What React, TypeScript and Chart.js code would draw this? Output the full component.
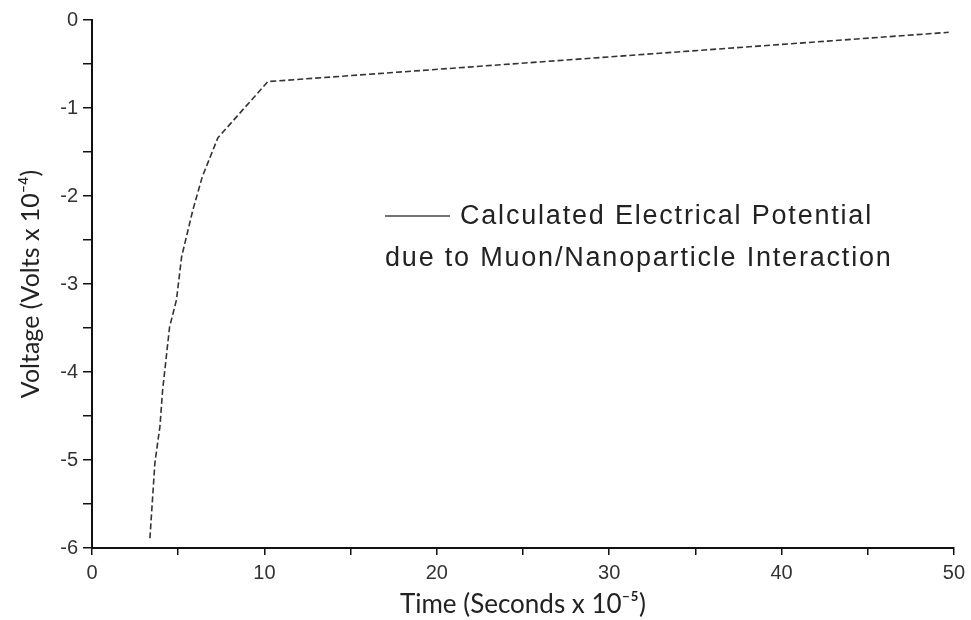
import React, { useEffect, useRef } from "react";
import { Chart, registerables } from "chart.js";

Chart.register(...registerables);

const timeValues = [3.36, 3.65, 3.94, 4.1, 4.5, 4.9, 5.2, 5.85, 6.4, 7.3, 10.2, 49.7];
const voltageValues = [-5.89, -5.03, -4.62, -4.2, -3.49, -3.18, -2.69, -2.16, -1.78, -1.34, -0.7, -0.14];
const legendLines = ["Calculated Electrical Potential", "due to Muon/Nanoparticle Interaction"];
const xTitle = "Time (Seconds x 10\u207B\u2075)";
const yTitle = "Voltage (Volts x 10\u207B\u2074)";

const legendPlugin = {
  id: "customLegend",
  afterDraw(chart: any) {
    const ctx = chart.ctx;
    ctx.save();
    ctx.strokeStyle = "#444";
    ctx.lineWidth = 1.5;
    ctx.beginPath();
    ctx.moveTo(385, 216);
    ctx.lineTo(450, 216);
    ctx.stroke();
    ctx.fillStyle = "#222";
    ctx.font = "27px 'Liberation Sans', Arial, sans-serif";
    (ctx as any).letterSpacing = "1.8px";
    ctx.textBaseline = "middle";
    ctx.textAlign = "left";
    ctx.fillText(legendLines[0], 460, 217);
    ctx.fillText(legendLines[1], 385, 259);
    ctx.restore();
  },
};

export default function App() {
  const ref = useRef<HTMLCanvasElement | null>(null);
  useEffect(() => {
    document.body.style.margin = "0";
    if (!ref.current) return;
    const chart = new Chart(ref.current, {
      type: "line",
      data: {
        datasets: [
          {
            label: "Calculated Electrical Potential",
            data: timeValues.map((t, i) => ({ x: t, y: voltageValues[i] })),
            borderColor: "#333",
            borderWidth: 1.6,
            borderDash: [6, 3],
            pointRadius: 0,
            fill: false,
            tension: 0,
          },
        ],
      },
      options: {
        animation: false,
        responsive: false,
        layout: { padding: { top: 20, right: 16, left: 0, bottom: 0 } },
        plugins: { legend: { display: false }, tooltip: { enabled: false } },
        scales: {
          x: {
            type: "linear",
            min: 0,
            max: 50,
            afterFit: (s: any) => {
              s.height = 72;
            },
            ticks: {
              stepSize: 5,
              autoSkip: false,
              maxRotation: 0,
              padding: 6,
              color: "#333",
              font: { family: "'Liberation Sans', Arial, sans-serif", size: 20 },
              callback: (v: any) => (Number(v) % 10 === 0 ? String(v) : ""),
            },
            grid: { drawOnChartArea: false, drawTicks: true, tickLength: 7, color: "#111", lineWidth: 1.5 },
            border: { display: true, color: "#111", width: 2 },
            title: {
              display: true,
              text: xTitle,
              color: "#222",
              font: { family: "Lato, 'Open Sans', sans-serif", size: 26 },
              padding: { top: 0, bottom: 0 },
            },
          },
          y: {
            type: "linear",
            min: -6,
            max: 0,
            afterFit: (s: any) => {
              s.width = 92;
            },
            ticks: {
              stepSize: 0.5,
              autoSkip: false,
              padding: 5,
              color: "#333",
              font: { family: "'Liberation Sans', Arial, sans-serif", size: 20 },
              callback: (v: any) => (Number.isInteger(Number(v)) ? String(v) : ""),
            },
            grid: { drawOnChartArea: false, drawTicks: true, tickLength: 9, color: "#111", lineWidth: 1.5 },
            border: { display: true, color: "#111", width: 2 },
            title: {
              display: true,
              text: yTitle,
              color: "#222",
              font: { family: "Lato, 'Open Sans', sans-serif", size: 25 },
              padding: { top: 16, bottom: 0 },
            },
          },
        },
      },
      plugins: [legendPlugin],
    });
    return () => chart.destroy();
  }, []);
  return (
    <div style={{ width: 971, height: 620, background: "#fff" }}>
      <canvas ref={ref} width={971} height={620} style={{ display: "block" }} />
    </div>
  );
}
